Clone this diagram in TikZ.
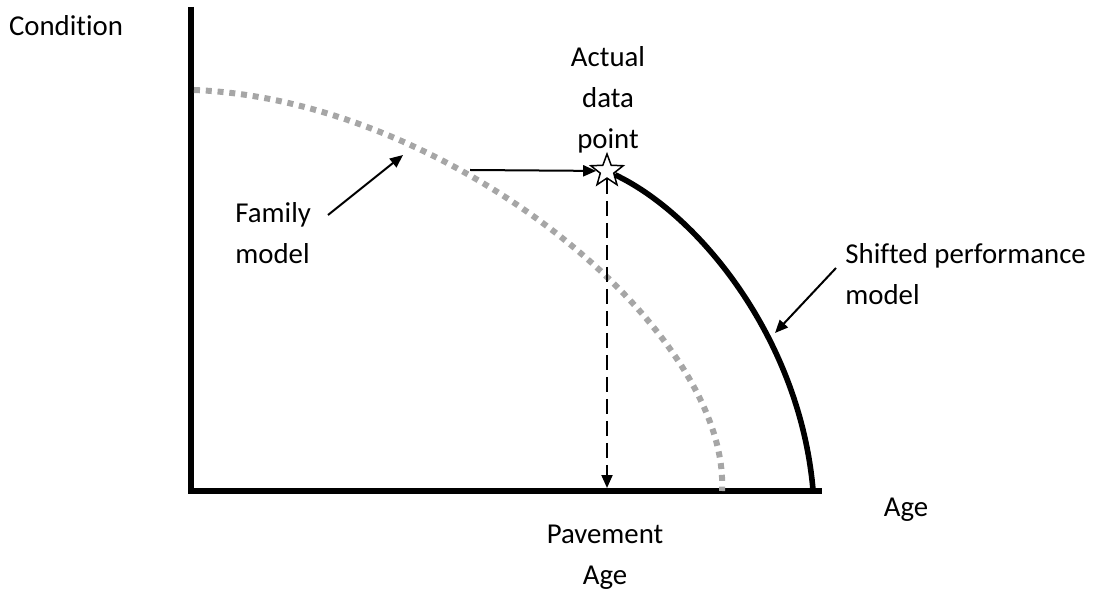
\documentclass[tikz,border=0pt]{standalone}
\usepackage{fontspec}
\setmainfont{Carlito}[RawFeature={-liga;-clig;-dlig}]
\usepackage{tikz}
\usetikzlibrary{arrows.meta,shapes.geometric}
\definecolor{famgray}{RGB}{166,166,166}

\begin{document}
\begin{tikzpicture}[x=0.5pt,y=-0.5pt,font=\fontsize{14.4}{20.5}\selectfont]
\tikzset{txt/.style = {inner sep=0pt, align=center}}
\tikzset{pointer/.style = {->,> = {Triangle[length=6.5pt,width=5.5pt]}, line width=1pt}}
\tikzset{datapt/.style = {star, star points=5, star point ratio=2.4, minimum size=17pt,
  inner sep=0pt, draw, fill=white, line width=0.75pt}}
\useasboundingbox (0,0) rectangle (1095,592);
% axes
\coordinate (ytop) at (191,7);
\coordinate (origin) at (191,491);
\coordinate (xend) at (822,491);
\draw[line width=3pt] (ytop) -- (origin) -- (xend);

% family curve (grey dots)
\draw[famgray, line width=3pt, dash pattern=on 3pt off 2.9pt]
  (194,90) .. controls (450,100) and (730,330) .. (722,491);

% data point and shifted curve
\node[datapt] (pt) at (607,171) {};
\draw[line width=2.8pt] (pt) .. controls (700,215) and (800,340) .. (813,490);

% arrows
\coordinate (famhit) at (470,170);
\coordinate (famtail) at (328,215);
\coordinate (famtip) at (403,155);
\coordinate (shtail) at (836,268);
\coordinate (shtip) at (775,333);
\draw[pointer] (famhit) -- (pt);
\draw[pointer, dash pattern=on 7.5pt off 3.5pt, shorten >=1.5pt] (pt) -- (pt |- origin);
\draw[pointer] (famtail) -- (famtip);
\draw[pointer] (shtail) -- (shtip);

% labels
\node[txt, anchor=north] (cond) at (66,15) {Condition};
\node[txt, anchor=north] (age) at (906,498) {Age};
\node[txt, anchor=north] (actual) at (608,46) {Actual\\data\\point};
\node[txt, anchor=north west, align=left] (fam) at (235,202) {Family\\model};
\node[txt, anchor=north west, align=left] (shifted) at (845,243) {Shifted performance\\model};
\node[txt, anchor=north] (pavage) at (605,525) {Pavement\\Age};

\end{tikzpicture}
\end{document}
